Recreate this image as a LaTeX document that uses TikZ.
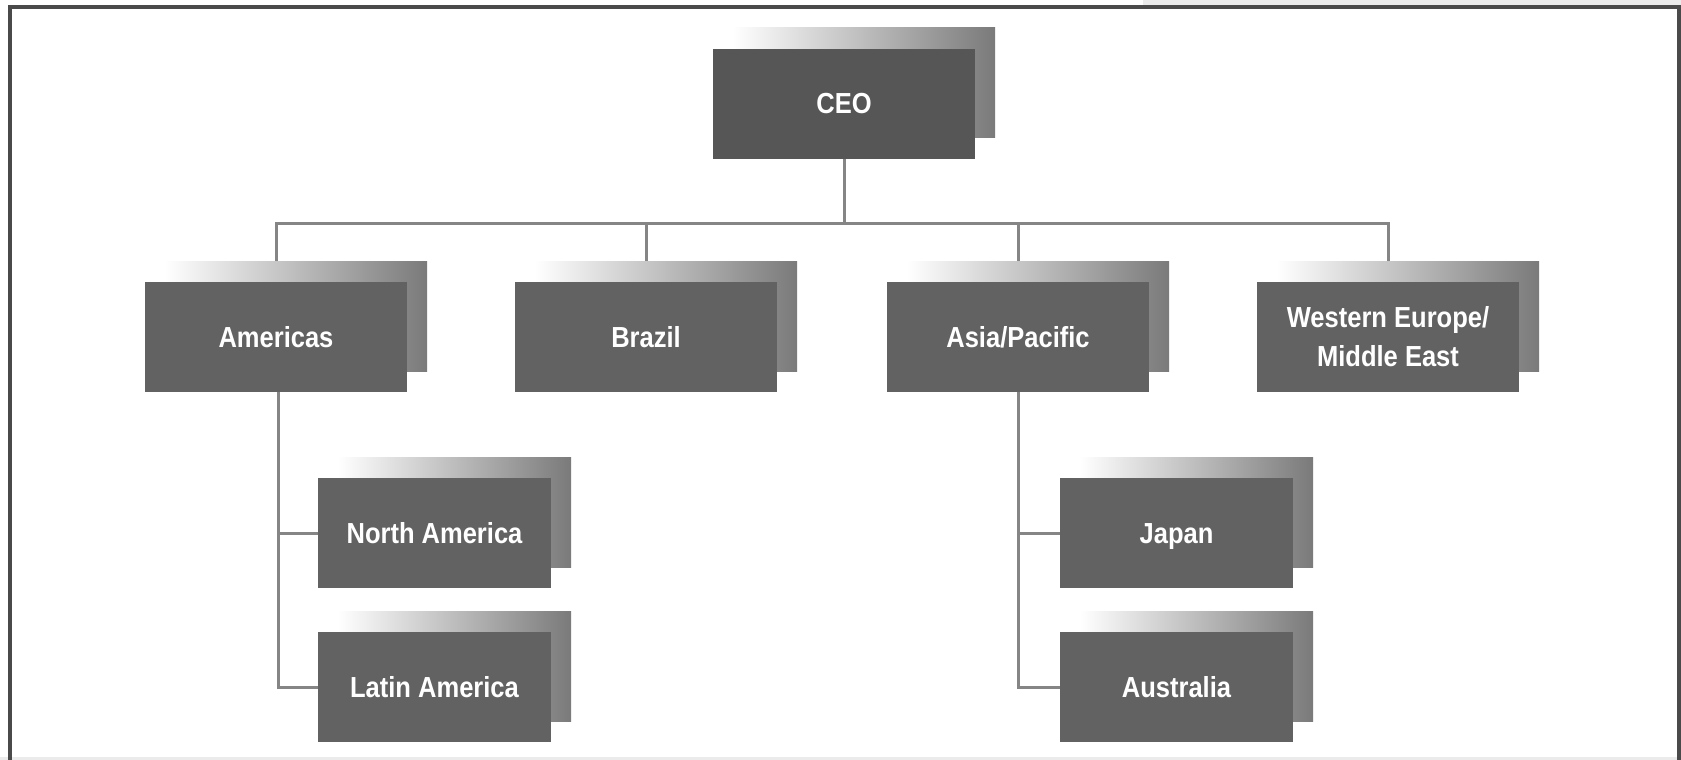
\documentclass[tikz,border=0pt]{standalone}
\usepackage{fontspec}
\setmainfont{Liberation Sans}[FakeStretch=0.88]
\usetikzlibrary{shadows,backgrounds}
\definecolor{boxfill}{HTML}{626262}
\definecolor{ceofill}{HTML}{565656}
\definecolor{shadowgray}{HTML}{7A7A7A}
\definecolor{linkgray}{HTML}{858585}
\definecolor{framegray}{HTML}{4A4A4A}
\definecolor{edgegray}{HTML}{EBEBEB}
\begin{document}
\begin{tikzpicture}[x=0.5pt,y=-0.5pt,
  unitbox/.style={rectangle, inner sep=0pt, fill=boxfill, text=white,
    minimum width=131pt, minimum height=55pt, align=center,
    font=\bfseries\fontsize{14.5}{19.5}\selectfont,
    general shadow={shadow xshift=10pt, shadow yshift=10.5pt,
      left color=white, right color=shadowgray}},
  subbox/.style={unitbox, minimum width=116.5pt, text height=10.5pt, text depth=0pt},
  link/.style={draw=linkgray, line width=1.5pt},
  frameline/.style={draw=framegray, line width=1.7pt}]
\useasboundingbox (0,0) rectangle (1681,760);
% faint page edges
\fill[edgegray] (1143,0) rectangle (1681,5);
\fill[edgegray] (0,757) rectangle (1681,760);
% outer frame, open at the bottom
\draw[frameline] (10,760) -- (10,7) -- (1679,7) -- (1679,760);

% top level
\node[unitbox, fill=ceofill] (ceo) at (844,103.5) {CEO};
% regions
\node[unitbox] (am) at (276,337) {Americas};
\node[unitbox] (br) at (646,337) {Brazil};
\node[unitbox] (as) at (1018,337) {Asia/Pacific};
\node[unitbox] (we) at (1388,337) {Western Europe/\\Middle East};
% sub-regions
\node[subbox] (na) at (434.5,533) {North America};
\node[subbox] (la) at (434.5,687) {Latin America};
\node[subbox] (jp) at (1176.5,533) {Japan};
\node[subbox] (au) at (1176.5,687) {Australia};

\coordinate (bar) at (0,223);
\begin{scope}[on background layer]
  \draw[link] (ceo.south) -- (ceo |- bar);
  \draw[link] (am.north) -- (am |- bar) -- (we |- bar) -- (we.north);
  \draw[link] (br |- bar) -- (br.north);
  \draw[link] (as |- bar) -- (as.north);
  \draw[link] ([xshift=1pt]am.south) |- (la.west);
  \draw[link] ([xshift=1pt]am.south |- na.west) -- (na.west);
  \draw[link] (as.south) |- (au.west);
  \draw[link] (as.south |- jp.west) -- (jp.west);
\end{scope}
\end{tikzpicture}
\end{document}
